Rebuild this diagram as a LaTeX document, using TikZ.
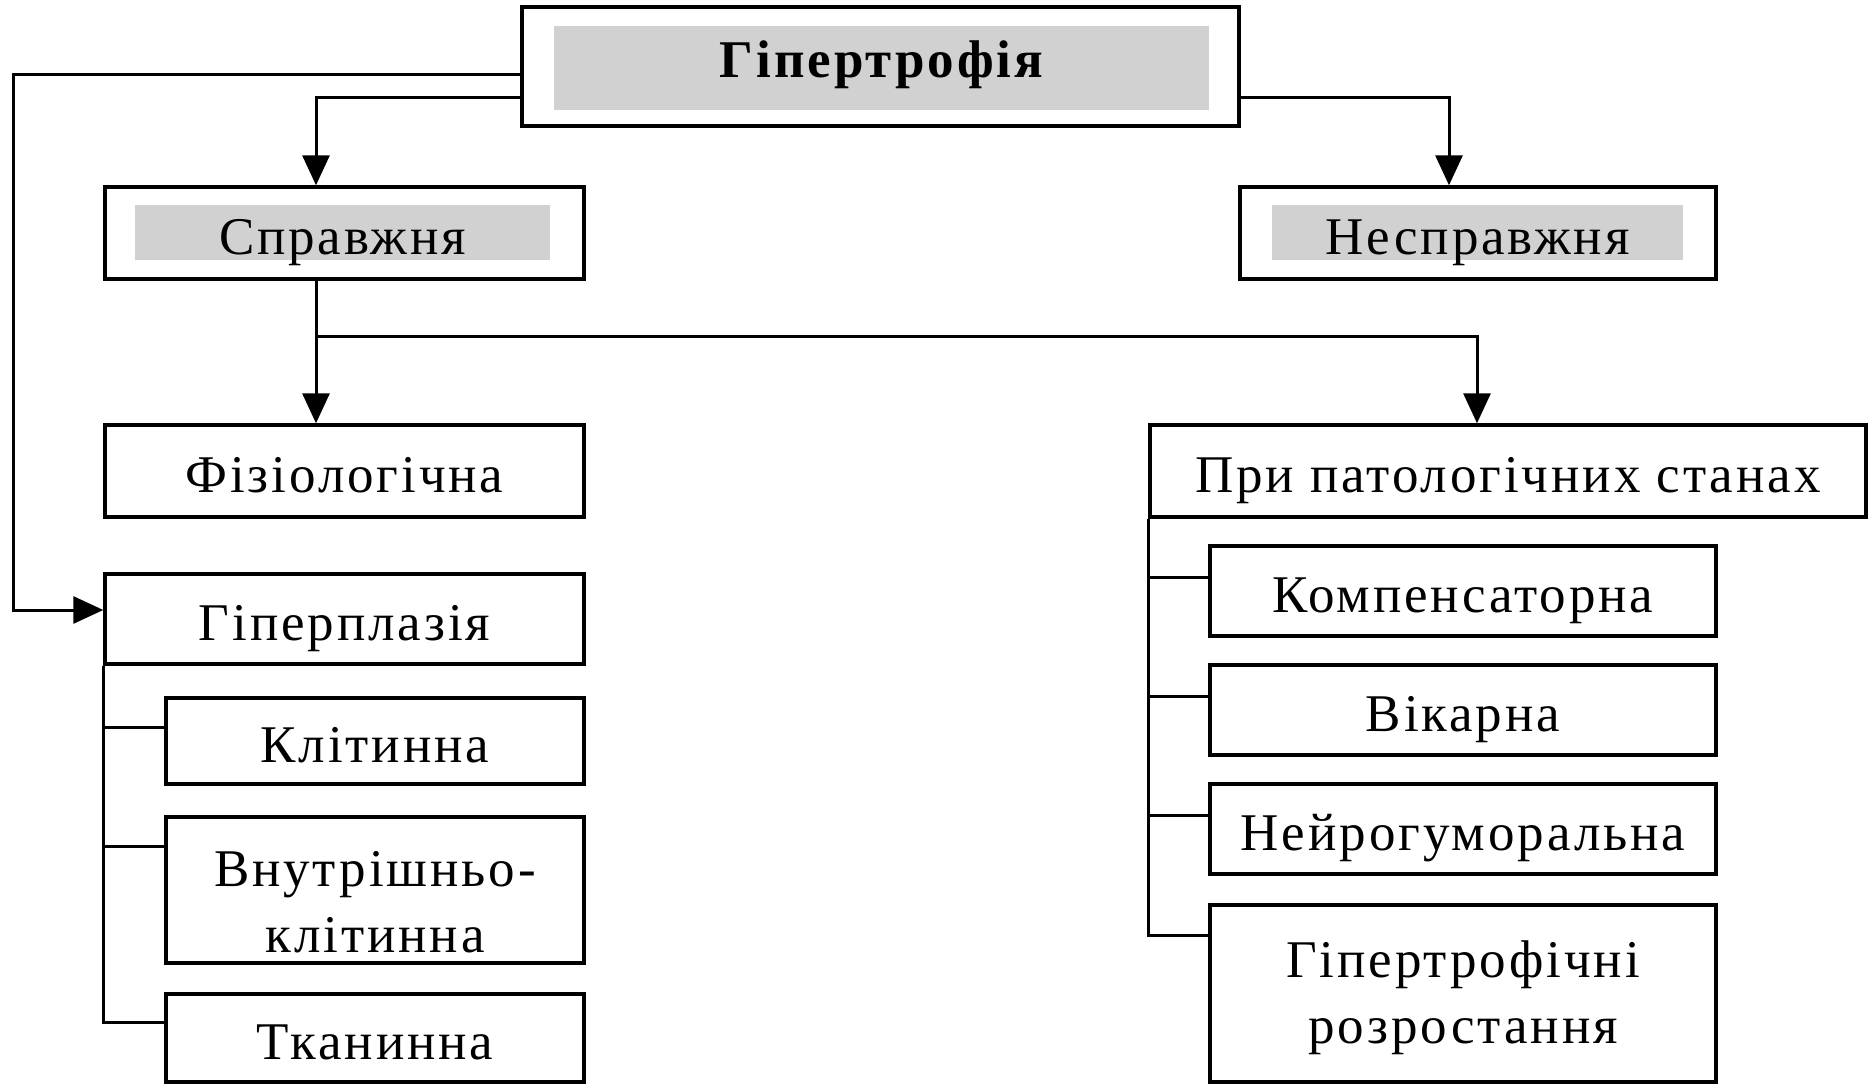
\documentclass[tikz,border=0pt]{standalone}
\usepackage{fontspec}
\setmainfont{Liberation Serif}
\newfontfamily\boxfont[LetterSpace=5.5]{Liberation Serif}
\usetikzlibrary{arrows.meta}
\tikzset{
  txt/.style={inner sep=0pt, align=center, text height=43pt, text depth=0pt,
    font=\boxfont\fontsize{53}{66}\selectfont},
  box/.style={txt, draw=black, line width=3.4pt, fill=white},
  greybox/.style={fill=black!18, draw=none, inner sep=0pt},
  conn/.style={line width=3pt, draw=black},
  arr/.style={conn, -{Triangle[length=30pt,width=27pt]}},
}
\begin{document}
\begin{tikzpicture}[x=1pt,y=-1pt]
\useasboundingbox (0,0) rectangle (1868,1086);
% top box
\node[box, minimum width=717pt, minimum height=119pt] (top) at (880.5,66.5) {};
\node[greybox, minimum width=655pt, minimum height=84pt] (topg) at (881.5,68) {};
\node[txt, text height=36pt, text depth=16pt, font=\boxfont\fontsize{53}{66}\selectfont\bfseries] (toptxt) at (topg) {Гіпертрофія};
% second level
\node[box, minimum width=479pt, minimum height=92pt] (sprav) at (344.5,233) {};
\node[greybox, minimum width=415pt, minimum height=55pt] (spravg) at (342.5,232.5) {};
\node[txt] (spravtxt) at (spravg) {Справжня};
\node[box, minimum width=476pt, minimum height=92pt] (nespr) at (1478,233) {};
\node[greybox, minimum width=411pt, minimum height=55pt] (nesprg) at (1477.5,232.5) {};
\node[txt] (nesprtxt) at (nesprg) {Несправжня};
% third level
\node[box, minimum width=479pt, minimum height=92pt] (fiz) at (344.5,471) {Фізіологічна};
\node[box, minimum width=716pt, minimum height=92pt] (pry) at (1508,471) {При патологічних станах};
% left branch
\node[box, minimum width=479pt, minimum height=90pt] (hiperpl) at (344.5,619) {Гіперплазія};
\node[box, minimum width=418pt, minimum height=86pt] (klit) at (375,741) {Клітинна};
\node[box, minimum width=418pt, minimum height=146pt, text height=124pt, text depth=0pt] (vnutr) at (375,890) {Внутрішньо-\\клітинна};
\node[box, minimum width=418pt, minimum height=88pt] (tkan) at (375,1038) {Тканинна};
% right branch
\node[box, minimum width=506pt, minimum height=90pt] (komp) at (1463,591) {Компенсаторна};
\node[box, minimum width=506pt, minimum height=90pt] (vik) at (1463,710) {Вікарна};
\node[box, minimum width=506pt, minimum height=90pt] (neiro) at (1463,829) {Нейрогуморальна};
\node[box, minimum width=506pt, minimum height=177pt, text height=102pt, text depth=3pt] (hipertr) at (1463,993.5) {Гіпертрофічні\\розростання};
% connectors from top
\draw[arr] ([yshift=-8.5pt]top.west) -- ++(-507,0) |- ([yshift=9pt]hiperpl.west);
\draw[arr] ([yshift=-31.5pt]top.west) -| ([xshift=-28.5pt]sprav.north);
\draw[arr] ([yshift=-31.5pt]top.east) -| ([xshift=-29pt]nespr.north);
% from Справжня
\coordinate (junc) at (316,336);
\draw[arr] ([xshift=-28.5pt]sprav.south) -- ([xshift=-28.5pt]fiz.north);
\draw[arr] (junc) -| ([xshift=-31pt]pry.north);
% left tree
\draw[conn] (hiperpl.south west) |- ([yshift=16pt]tkan.west);
\draw[conn] (hiperpl.south west |- klit.west) ++(0,-14) -- ([yshift=14pt]klit.west);
\draw[conn] (hiperpl.south west |- vnutr.west) ++(0,-44) -- ([yshift=44pt]vnutr.west);
% right tree
\draw[conn] (pry.south west) |- ([yshift=58.5pt]hipertr.west);
\draw[conn] (pry.south west |- komp.west) ++(0,-14) -- ([yshift=14pt]komp.west);
\draw[conn] (pry.south west |- vik.west) ++(0,-14) -- ([yshift=14pt]vik.west);
\draw[conn] (pry.south west |- neiro.west) ++(0,-14) -- ([yshift=14pt]neiro.west);
\end{tikzpicture}
\end{document}
